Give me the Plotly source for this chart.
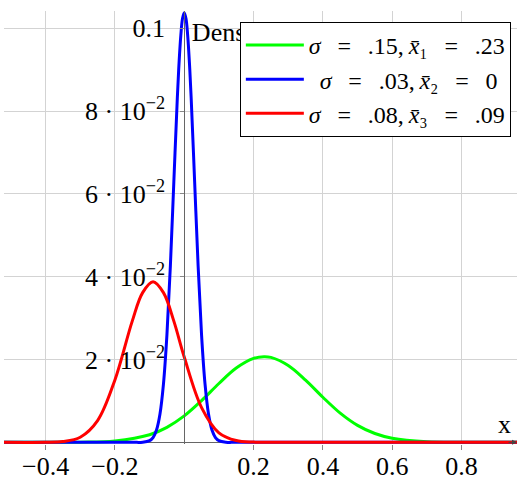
import plotly.graph_objects as go

# ---- data ----
green_x = [-0.52, -0.4, -0.3, -0.2, -0.1, -0.05, 0.0, 0.05, 0.1, 0.15, 0.2, 0.23, 0.25, 0.3, 0.35, 0.4, 0.45, 0.5, 0.55, 0.6, 0.7, 0.8, 0.96]
green_y = [0.0, 0.000003, 0.00004, 0.00034, 0.00184, 0.00363, 0.00639, 0.01008, 0.01422, 0.01796, 0.02029, 0.0207, 0.02052, 0.01856, 0.01503, 0.01089, 0.00706, 0.0041, 0.00213, 0.00099, 0.00015, 0.000015, 0.0]

blue_x = [-0.52, -0.15, -0.12, -0.1, -0.09, -0.08, -0.07, -0.06, -0.05, -0.04, -0.03, -0.02, -0.015, -0.01, -0.005, 0.0,
          0.005, 0.01, 0.015, 0.02, 0.03, 0.04, 0.05, 0.06, 0.07, 0.08, 0.09, 0.1, 0.12, 0.15, 0.96]
blue_y = [0.0, 0.0, 0.000035, 0.0004, 0.00115, 0.00296, 0.00682, 0.01405, 0.02589, 0.04267, 0.06296, 0.08311, 0.0916, 0.0982, 0.10237, 0.1038,
          0.10237, 0.0982, 0.0916, 0.08311, 0.06296, 0.04267, 0.02589, 0.01405, 0.00682, 0.00296, 0.00115, 0.0004, 0.000035, 0.0, 0.0]

red_x = [-0.52, -0.4, -0.35, -0.3, -0.25, -0.2, -0.15, -0.12, -0.09, -0.06, -0.03, 0.0, 0.05, 0.1, 0.15, 0.2, 0.3, 0.96]
red_y = [0.0, 0.00002, 0.000198, 0.00124, 0.00525, 0.01508, 0.02929, 0.03617, 0.0388, 0.03617, 0.02929, 0.02061, 0.00839, 0.00231, 0.00043, 0.000054, 0.0, 0.0]

EQ = "\u2002\u2009=\u2009\u2002"
series_names = ["<i>σ</i>" + EQ + ".15,\u2009<i>x̄</i>₁" + EQ + ".23",
                "\u2005\u2009<i>σ</i>" + EQ + ".03,\u2009<i>x̄</i>₂" + EQ + "0",
                "<i>σ</i>" + EQ + ".08,\u2009<i>x̄</i>₃" + EQ + ".09"]
series_colors = ["#00ff00", "#0000ff", "#ff0000"]

x_tickvals = [-0.4, -0.2, 0.2, 0.4, 0.6, 0.8]
x_ticktext = ["−0.4", "−0.2", "0.2", "0.4", "0.6", "0.8"]
y_tickvals = [0.02, 0.04, 0.06, 0.08, 0.1]
y_ticktext = ["2 · 10<sup>−2</sup>", "4 · 10<sup>−2</sup>", "6 · 10<sup>−2</sup>", "8 · 10<sup>−2</sup>", "0.1"]

X_RANGE = [-0.52, 0.96]
Y_RANGE = [-0.0004, 0.1042]

FONT = "Liberation Serif"
FS = 26
LFS = 24

fig = go.Figure()
for xs, ys, name, col in zip([green_x, blue_x, red_x], [green_y, blue_y, red_y], series_names, series_colors):
    fig.add_trace(go.Scatter(x=xs, y=ys, mode="lines", name=name,
                             line=dict(color=col, width=3, shape="spline")))

fig.update_layout(
    width=517, height=477,
    margin=dict(l=4, r=0, t=11, b=33, autoexpand=False),
    plot_bgcolor="white", paper_bgcolor="white",
    font=dict(family=FONT, size=FS, color="black"),
    showlegend=True,
    legend=dict(x=0.988, y=0.975, xanchor="right", yanchor="top",
                bgcolor="white", bordercolor="black", borderwidth=1,
                itemwidth=58,
                font=dict(family=FONT, size=LFS), tracegroupgap=0),
    xaxis=dict(range=X_RANGE, domain=[0, 1], showline=False, zeroline=False,
               showgrid=True, gridcolor="#d3d3d3", gridwidth=1,
               tickvals=x_tickvals, ticktext=x_ticktext, automargin=False,
               ticks="outside", ticklen=5, tickcolor="#888", ticklabelstandoff=-6),
    yaxis=dict(range=Y_RANGE, anchor="free", automargin=False,
               position=(0 - X_RANGE[0]) / (X_RANGE[1] - X_RANGE[0]),
               showline=True, linecolor="#666", linewidth=1,
               zeroline=True, zerolinecolor="#666", zerolinewidth=1,
               showgrid=True, gridcolor="#d3d3d3", gridwidth=1,
               tickvals=y_tickvals, ticktext=y_ticktext,
               ticks="outside", ticklen=4, tickcolor="#888", ticklabelstandoff=10),
    shapes=[
        dict(type="line", xref="x", yref="y", x0=0.022, x1=0.3, y0=0.0997, y1=0.0997,
             line=dict(width=0, color="rgba(0,0,0,0)"), layer="above",
             label=dict(text="Density", textposition="start", xanchor="left", yanchor="middle",
                        font=dict(family=FONT, size=FS, color="black"))),
    ],
    annotations=[
        dict(x=0.925, y=0.0042, xref="x", yref="y", text="x", showarrow=False,
             xanchor="center", yanchor="middle", font=dict(family=FONT, size=FS)),
        dict(x=X_RANGE[1], y=0, xref="x", yref="y", text="", showarrow=True,
             ax=-10, ay=0, arrowhead=2, arrowsize=1, arrowwidth=1, arrowcolor="#444", standoff=0),
    ],
)

fig.write_html("out.html", config={"displayModeBar": False},
               post_script="document.body.style.margin='0';")
